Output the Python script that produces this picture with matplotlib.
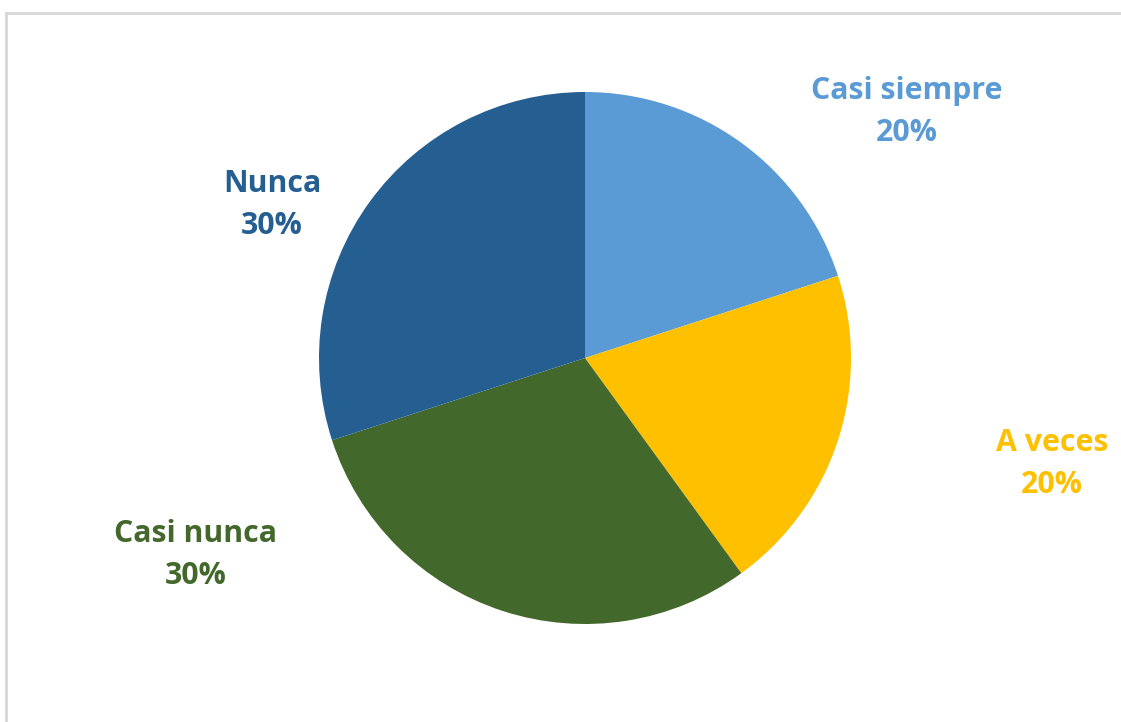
import matplotlib.pyplot as plt
from matplotlib.patches import Rectangle

# Data
labels = ["Casi siempre", "A veces", "Casi nunca", "Nunca"]
values = [20, 20, 30, 30]
colors = ["#5B9BD5", "#FFC000", "#43682B", "#255E91"]

# label centres in pixel coords (x, y from top)
label_pos = [(907, 112), (1052, 464), (196, 555), (272, 205)]

W, H = 1121, 722
fig = plt.figure(figsize=(W / 100, H / 100), dpi=100)
ax = fig.add_axes([0, 0, 1, 1])
ax.set_xlim(0, W)
ax.set_ylim(0, H)
ax.set_aspect("equal")
ax.axis("off")

# chart area border (only top and left visible)
ax.add_patch(Rectangle((6, -20), W + 40, H - 13 + 20, fill=False,
                       edgecolor="#D9D9D9", linewidth=2.2))

cx, cy, r = 585, H - 358, 266
ax.pie(values, colors=colors, startangle=90, counterclock=False,
       center=(cx, cy), radius=r, frame=True,
       wedgeprops=dict(linewidth=0))
ax.set_xlim(0, W)
ax.set_ylim(0, H)
ax.axis("off")

for lab, val, col, (px, py) in zip(labels, values, colors, label_pos):
    ax.text(px, H - py, lab + "\n" + str(val) + "%", color=col,
            ha="center", va="center", fontsize=21.8, fontweight="bold",
            family="Open Sans", linespacing=1.55)

fig.savefig("out.png", dpi=100)
